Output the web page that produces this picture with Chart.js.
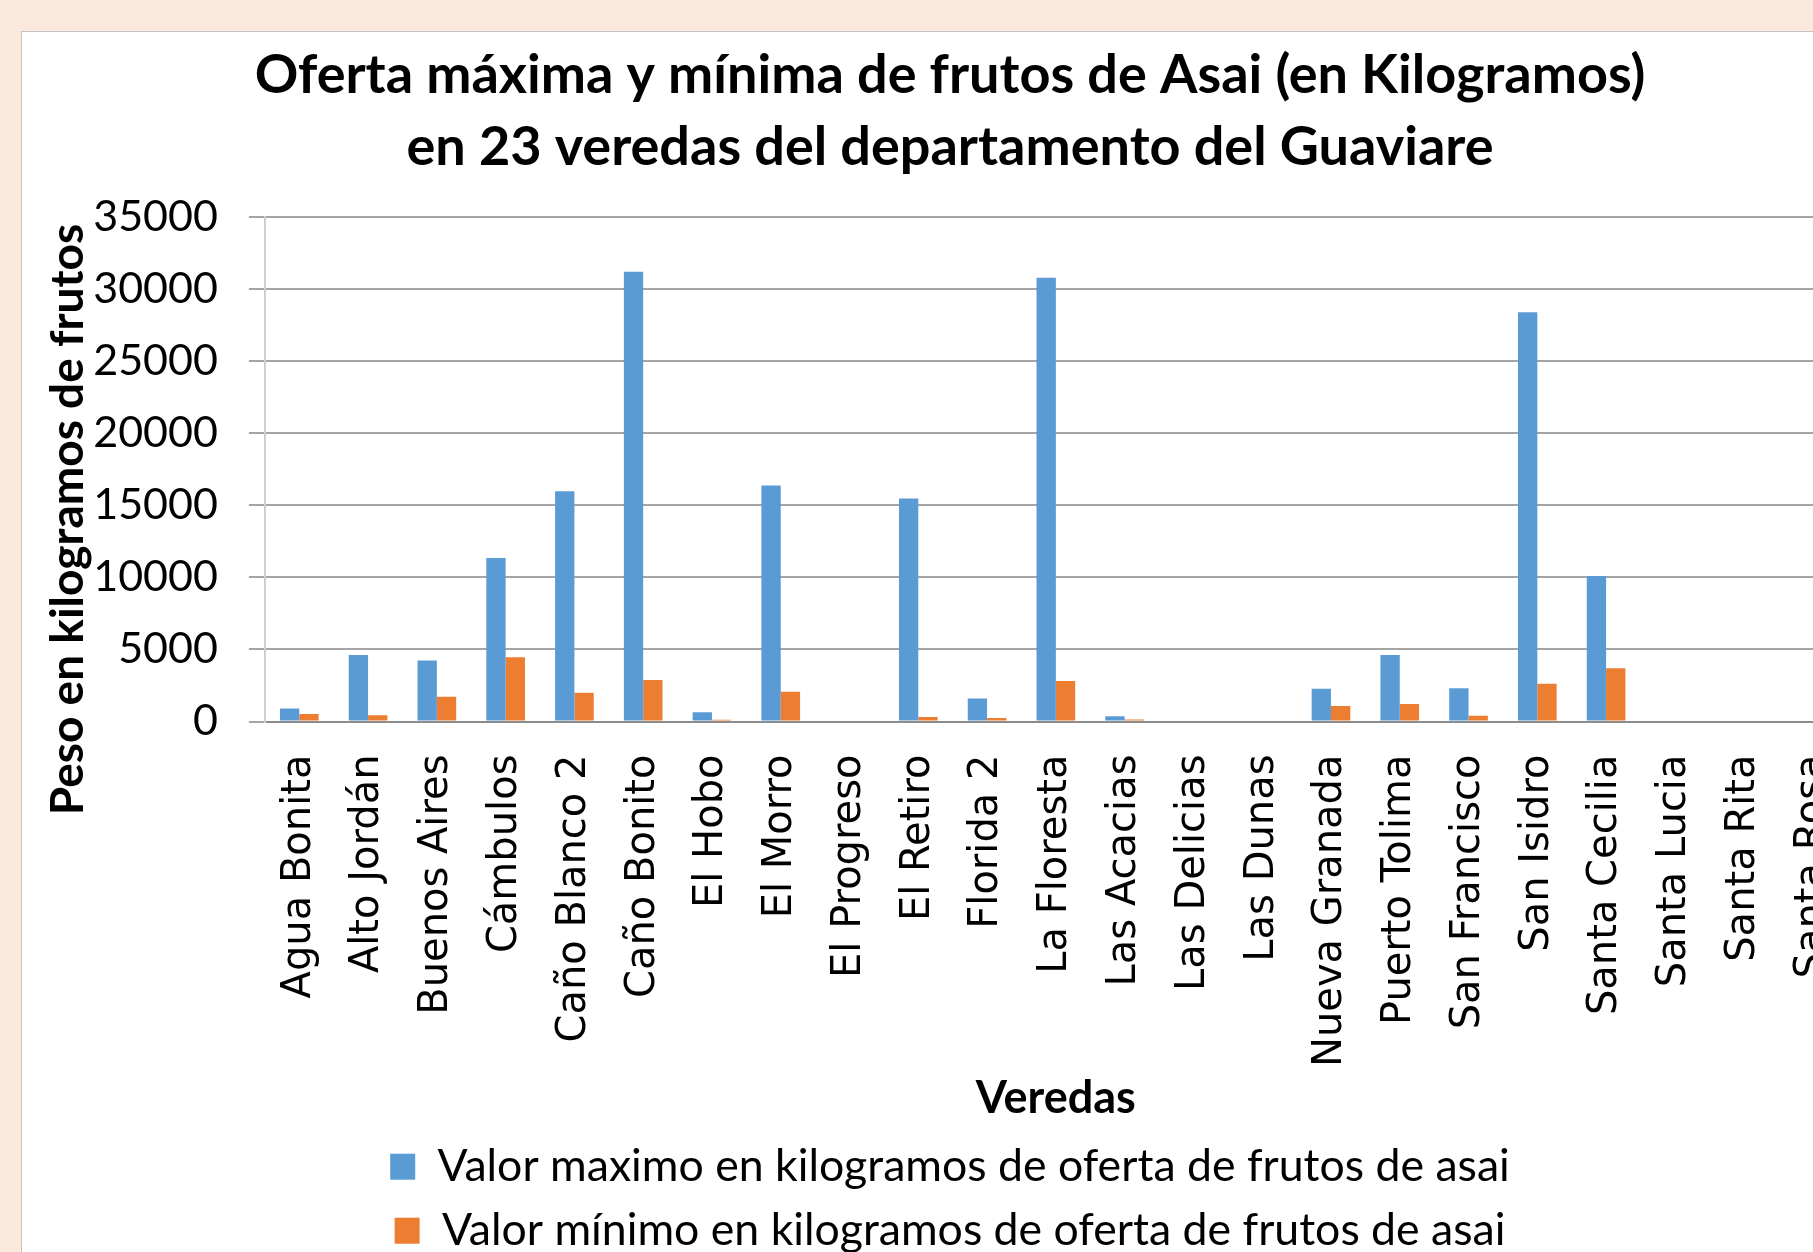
<!DOCTYPE html>
<html lang="es">
<head>
    <meta charset="UTF-8">
    <meta name="viewport" content="width=device-width, initial-scale=1.0">
    <title>Oferta de frutos de Asai</title>
    <script src="https://cdn.jsdelivr.net/npm/chart.js"></script>
    <style>
        html, body { margin: 0; padding: 0; width: 1813px; height: 1252px; overflow: hidden; background: #fbe9dd; }
        #marco { position: absolute; left: 21px; top: 31px; background: #fff; border: 1px solid #c4c4c4; }
        #grafico { display: block; }
    </style>
</head>
<body>
    <div id="marco">
        <canvas id="grafico" width="1872" height="1231"></canvas>
    </div>

    <script>
        // Datos
        const titulo = [
            'Oferta máxima y mínima de frutos de Asai (en Kilogramos)',
            'en 23 veredas del departamento del Guaviare'
        ];
        const veredas = [
            'Agua Bonita', 'Alto Jordán', 'Buenos Aires', 'Cámbulos', 'Caño Blanco 2', 'Caño Bonito',
            'El Hobo', 'El Morro', 'El Progreso', 'El Retiro', 'Florida 2', 'La Floresta', 'Las Acacias',
            'Las Delicias', 'Las Dunas', 'Nueva Granada', 'Puerto Tolima', 'San Francisco', 'San Isidro',
            'Santa Cecilia', 'Santa Lucia', 'Santa Rita', 'Santa Rosa'
        ];
        const series = [
            'Valor maximo en kilogramos de oferta de frutos de asai',
            'Valor mínimo en kilogramos de oferta de frutos de asai'
        ];
        const valorMaximo = [900, 4620, 4240, 11350, 15970, 31200, 640, 16380, 0, 15470, 1600, 30780, 360,
                             0, 0, 2270, 4620, 2310, 28390, 10100, 0, 0, 0];
        const valorMinimo = [520, 430, 1720, 4460, 2000, 2880, 120, 2070, 0, 310, 240, 2810, 140,
                             0, 0, 1070, 1220, 400, 2620, 3700, 0, 0, 0];
        const marcasY = [0, 5000, 10000, 15000, 20000, 25000, 30000, 35000];

        Chart.defaults.font.family = 'Lato';
        Chart.defaults.color = '#000';

        const ctx = document.getElementById('grafico').getContext('2d');
        new Chart(ctx, {
            type: 'bar',
            data: {
                labels: veredas,
                datasets: [
                    { label: series[0], data: valorMaximo, backgroundColor: '#5b9bd5', barPercentage: 1, categoryPercentage: 0.562 },
                    { label: series[1], data: valorMinimo, backgroundColor: '#ed7d31', barPercentage: 1, categoryPercentage: 0.562 }
                ]
            },
            options: {
                responsive: false,
                animation: false,
                layout: { padding: { left: 10, right: 26, top: 0, bottom: 0 } },
                plugins: {
                    title: {
                        display: true,
                        text: titulo,
                        font: { size: 54, weight: 'bold', lineHeight: 1.333 },
                        padding: { top: 8, bottom: 33 }
                    },
                    legend: {
                        position: 'bottom',
                        labels: { font: { size: 44.6 }, boxWidth: 25, boxHeight: 26, padding: 19.4 }
                    },
                    tooltip: { enabled: false }
                },
                scales: {
                    x: {
                        grid: { display: false, drawTicks: false },
                        border: { color: '#8c8c8c', width: 2 },
                        ticks: {
                            font: { family: 'DejaVu Sans', size: 40 },
                            minRotation: 90, maxRotation: 90, autoSkip: false, padding: 33
                        },
                        title: { display: true, text: 'Veredas', font: { size: 45, weight: 'bold' }, padding: { top: -29, bottom: 0 } }
                    },
                    y: {
                        min: marcasY[0],
                        max: marcasY[marcasY.length - 1],
                        ticks: {
                            stepSize: marcasY[1] - marcasY[0],
                            font: { size: 43 },
                            padding: 31,
                            callback: v => String(v) // sin separador de miles
                        },
                        grid: { color: '#a5a5a5', lineWidth: 2, tickLength: 16 },
                        border: { color: '#cfcfcf', width: 2 },
                        title: {
                            display: true,
                            // espacios finales: el título queda algo más abajo, como en el original
                            text: 'Peso en kilogramos de frutos' + '\u00a0'.repeat(9),
                            font: { size: 46, weight: 'bold' },
                            padding: { top: 9, bottom: -34 }
                        }
                    }
                }
            }
        });
    </script>
</body>
</html>
